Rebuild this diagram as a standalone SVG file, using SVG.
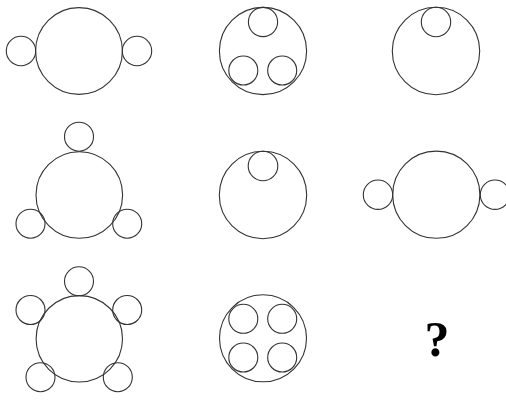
<svg xmlns="http://www.w3.org/2000/svg" width="506" height="419" viewBox="0 0 506 419">
<style>
circle{fill:none;stroke:#333;stroke-width:1.1}
.q{font-family:"Liberation Serif",serif;font-weight:bold;font-size:50px;fill:#000}
</style>
<rect width="506" height="419" fill="#fff"/>
<g id="cell1">
<circle cx="79" cy="51" r="43.4"/>
<circle cx="21" cy="51" r="14.7"/>
<circle cx="137" cy="51" r="14.7"/>
</g>
<g id="cell2">
<circle cx="263" cy="51" r="43.6"/>
<circle cx="263" cy="22" r="14.6"/>
<circle cx="243.3" cy="70.5" r="14.5"/>
<circle cx="282.2" cy="70.5" r="14.5"/>
</g>
<g id="cell3">
<circle cx="436" cy="51" r="43.7"/>
<circle cx="436" cy="22" r="14.7"/>
</g>
<g id="cell4">
<circle cx="79.3" cy="195" r="43.3"/>
<circle cx="79" cy="136.7" r="14.5"/>
<circle cx="30.5" cy="223.7" r="14.5"/>
<circle cx="127.2" cy="223.7" r="14.5"/>
</g>
<g id="cell5">
<circle cx="263" cy="195" r="43.7"/>
<circle cx="263" cy="166" r="14.8"/>
</g>
<g id="cell6">
<circle cx="436.3" cy="194.7" r="43.6"/>
<circle cx="378" cy="194.7" r="14.7"/>
<circle cx="495" cy="194.7" r="14.7"/>
</g>
<g id="cell7">
<circle cx="79.3" cy="338.8" r="43.2"/>
<circle cx="79" cy="281.3" r="14.5"/>
<circle cx="30.5" cy="310" r="14.5"/>
<circle cx="127.2" cy="310" r="14.5"/>
<circle cx="40.5" cy="377.2" r="14.5"/>
<circle cx="117.8" cy="377.2" r="14.5"/>
</g>
<g id="cell8">
<circle cx="263" cy="338.3" r="43.5"/>
<circle cx="243.3" cy="318.8" r="14.5"/>
<circle cx="282.2" cy="318.8" r="14.5"/>
<circle cx="243.3" cy="357.5" r="14.5"/>
<circle cx="282.2" cy="357.5" r="14.5"/>
</g>
<g id="cell9">
<text class="q" x="437" y="355.5" text-anchor="middle">?</text>
</g>
</svg>
